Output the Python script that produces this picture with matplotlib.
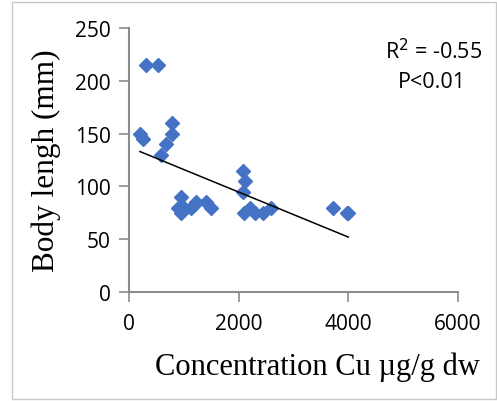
import numpy as np
import matplotlib.pyplot as plt
from matplotlib.patches import Rectangle

# Cu concentration (µg/g dw) vs body length (mm)
cu_conc = [200, 260, 310, 535, 590, 680, 790, 790, 940, 900, 940, 1010,
           1130, 1190, 1230, 1400, 1490, 2070, 2110, 2070, 2090, 2210,
           2290, 2440, 2590, 3720, 3970, 4000]
body_len = [150, 145, 215, 215, 130, 140, 160, 150, 90, 80, 75, 80,
            80, 82, 85, 85, 80, 115, 105, 95, 75, 80,
            75, 75, 80, 80, 75, 75]

# trend line as drawn in the original (Excel linear trendline)
trend_x = [200, 4000]
trend_y = [133, 52]

x_ticks = [0, 2000, 4000, 6000]
y_ticks = [0, 50, 100, 150, 200, 250]

fig = plt.figure(figsize=(4.97, 4.02), dpi=100)
ax = fig.add_axes([129 / 497, 1 - 293 / 402, 329 / 497, 264 / 402])

ax.plot(cu_conc, body_len, linestyle='none', marker='D', markersize=7.5,
        color='#4472C4')
ax.plot(trend_x, trend_y, color='black', linewidth=1.1)

ax.set_xlim(0, 6000)
ax.set_ylim(0, 250)
ax.set_xticks(x_ticks)
ax.set_yticks(y_ticks)

for s in ['top', 'right']:
    ax.spines[s].set_visible(False)
for s in ['left', 'bottom']:
    ax.spines[s].set_color('#8c8c8c')
    ax.spines[s].set_linewidth(1.5)
ax.tick_params(colors='#8c8c8c', length=7, width=1.2, labelcolor='black',
               labelsize=15)
for lab in ax.get_xticklabels() + ax.get_yticklabels():
    lab.set_family('Open Sans')
ax.tick_params(axis='x', pad=8)
ax.tick_params(axis='y', pad=6)

ax.set_xlabel('Concentration Cu µg/g dw', family='Liberation Serif',
              fontsize=22, va='center')
ax.xaxis.set_label_coords(0.574, -0.28)
ax.set_ylabel('Body lengh (mm)', family='Liberation Serif', fontsize=22.5,
              va='center')
ax.yaxis.set_label_coords(-0.252, 0.5)

fig.text(482 / 497, 1 - 52 / 402, 'R$^2$ = -0.55', ha='right', va='center',
         family='Open Sans', fontsize=15.5)
fig.text(432 / 497, 1 - 83 / 402, 'P<0.01', ha='center', va='center',
         family='Open Sans', fontsize=15.5)

# light frame around the whole chart
fig.patches.append(Rectangle((12 / 497, 2 / 402), 484 / 497, 397 / 402,
                             transform=fig.transFigure, fill=False,
                             edgecolor='#c8c8c8', linewidth=1))

fig.savefig('out.png', dpi=100)
